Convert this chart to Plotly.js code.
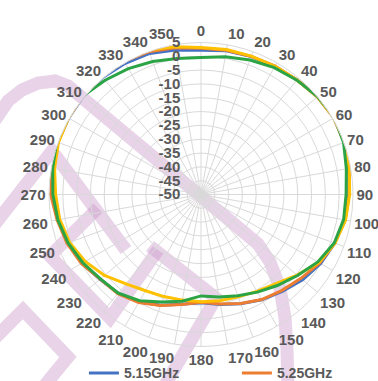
<!DOCTYPE html>
<html>
<head>
<meta charset="utf-8">
<script src="https://cdn.plot.ly/plotly-3.0.1.min.js"></script>
<style>
html,body{margin:0;padding:0;background:#fff;}
#chart{width:378px;height:381px;}
</style>
</head>
<body>
<div id="chart"></div>
<script>
// Angles (degrees, clockwise from top) and angular tick labels
const angles = [0,10,20,30,40,50,60,70,80,90,100,110,120,130,140,150,160,170,
                180,190,200,210,220,230,240,250,260,270,280,290,300,310,320,330,340,350];
const angleLabels = ["0","10","20","30","40","50","60","70","80","90","100","110","120","130","140","150","160","170",
                "180","190","200","210","220","230","240","250","260","270","280","290","300","310","320","330","340","350"];
// Radial ticks (dB)
const radialTicks = [-50,-45,-40,-35,-30,-25,-20,-15,-10,-5,0,5];
const radialLabels = ["-50","-45","-40","-35","-30","-25","-20","-15","-10","-5","0","5"];

// Series names (only the first two are legible in the picture's legend)
const seriesNames = ["5.15GHz","5.25GHz","series 3","series 4"];
const inLegend = [true, true, false, false];

// Gain values (dB), one per angle
const gain515 = [2.2,2.8,3.1,3.5,4.1,5.0,5.5,5.1,4.3,3.5,2.9,1.5,0.0,-2.0,-4.2,-6.0,-7.9,-9.6,
                 -10.8,-9.7,-7.4,-5.1,-3.4,-2.3,-0.2,1.4,2.6,3.8,4.7,5.1,5.3,5.5,5.3,4.8,4.3,3.1];
const gain525 = [2.9,3.0,3.2,3.6,4.1,5.0,5.5,5.1,4.4,3.6,3.0,1.5,-0.4,-2.8,-4.6,-6.1,-8.0,-9.8,
                 -11.0,-9.6,-7.3,-4.9,-3.2,-2.4,0.0,1.6,2.9,4.4,5.0,5.2,5.4,5.7,5.8,5.6,5.0,3.9];
const gainS3 = [3.2,3.3,3.3,3.6,4.1,5.0,5.5,5.2,4.5,3.8,3.1,1.6,-0.8,-4.6,-7.9,-9.5,-10.6,-11.0,
                 -11.2,-11.2,-10.7,-9.8,-7.8,-4.4,-1.6,0.6,1.9,2.6,3.8,4.9,5.4,5.8,6.0,6.0,5.6,4.3];
const gainS4 = [-0.4,0.6,1.8,3.0,4.0,5.1,5.8,4.9,3.4,2.5,2.4,1.3,-1.2,-4.4,-7.0,-9.2,-11.0,-12.3,
                 -13.3,-10.8,-8.6,-5.6,-3.4,-2.5,-0.6,1.2,2.6,3.6,4.5,5.6,6.8,5.6,4.0,2.6,1.2,0.0];

const allGains = [gain515, gain525, gainS3, gainS4];
const colors = ["#4472C4","#ED7D31","#FFC000","#2BA445"];

const traces = allGains.map((g, i) => ({
  type: "scatterpolar",
  mode: "lines",
  name: seriesNames[i],
  showlegend: inLegend[i],
  r: g.concat([g[0]]),
  theta: angles.concat([angles[0]]),
  line: {color: colors[i], width: 3},
  cliponaxis: false,
  hoverinfo: "skip"
}));

// watermark helper: pixel points -> paper coordinates
const W = 378, H = 381;
function P(pts){
  return pts.map((p,k)=> (k===0?"M":"L") + (p[0]/W).toFixed(4) + "," + (1 - p[1]/H).toFixed(4)).join(" ");
}
const wmStyle = {color: "rgba(200,150,200,0.42)", width: 13};
function arcPath(){
  const pts = [];
  pts.push([-5,120],[8,101],[22,90],[38,83],[55,81],[68,86]);
  pts.push([258,244]);
  pts.push([270,262],[280,288],[285,318],[287,350],[288,385]);
  return P(pts);
}
const shapes = [
  {type:"path", xref:"paper", yref:"paper", path: arcPath(), line: wmStyle, layer:"below"},
  {type:"path", xref:"paper", yref:"paper", path: P([[-5,224],[52,151],[126,250]]), line: wmStyle, layer:"below"},
  {type:"path", xref:"paper", yref:"paper", path: P([[98,208],[50,256],[110,318],[158,250]]), line: wmStyle, layer:"below"},
  {type:"path", xref:"paper", yref:"paper", path: P([[150,246],[216,298],[165,385]]), line: wmStyle, layer:"below"},
  {type:"path", xref:"paper", yref:"paper", path: P([[-5,338],[23,310],[68,357],[45,385]]), line: wmStyle, layer:"below"}
];

const tickFont = {family: "Liberation Sans, Arial, sans-serif", size: 15, color: "#595959", weight: "bold"};

const layout = {
  width: W, height: H,
  margin: {l:0, r:0, t:0, b:0, autoexpand: false},
  paper_bgcolor: "#ffffff",
  showlegend: true,
  legend: {
    orientation: "h", x: 0.222, xanchor: "left", y: 0.062, yanchor: "top",
    font: {family: "Liberation Sans, Arial, sans-serif", size: 14, color: "#595959", weight: "bold"},
    entrywidth: 108, entrywidthmode: "pixels", itemwidth: 30,
    bgcolor: "rgba(0,0,0,0)"
  },
  shapes: shapes,
  polar: {
    domain: {x: [49/W, 353/W], y: [1 - 346.5/H, 1 - 42.5/H]},
    bgcolor: "rgba(0,0,0,0)",
    angularaxis: {
      rotation: 90, direction: "clockwise",
      tickmode: "array", tickvals: angles, ticktext: angleLabels,
      ticks: "",
      showline: true, linecolor: "#D9D9D9", linewidth: 1,
      gridcolor: "#D9D9D9", gridwidth: 1,
      tickfont: tickFont
    },
    radialaxis: {
      range: [-50, 5], angle: 90, side: "counterclockwise",
      tickmode: "array", tickvals: radialTicks, ticktext: radialLabels,
      ticks: "outside", ticklen: 15, tickcolor: "rgba(0,0,0,0)",
      showline: false, gridcolor: "#D9D9D9", gridwidth: 1,
      tickangle: 90,
      tickfont: tickFont
    }
  }
};

Plotly.newPlot("chart", traces, layout, {displayModeBar: false, staticPlot: true});
</script>
</body>
</html>
